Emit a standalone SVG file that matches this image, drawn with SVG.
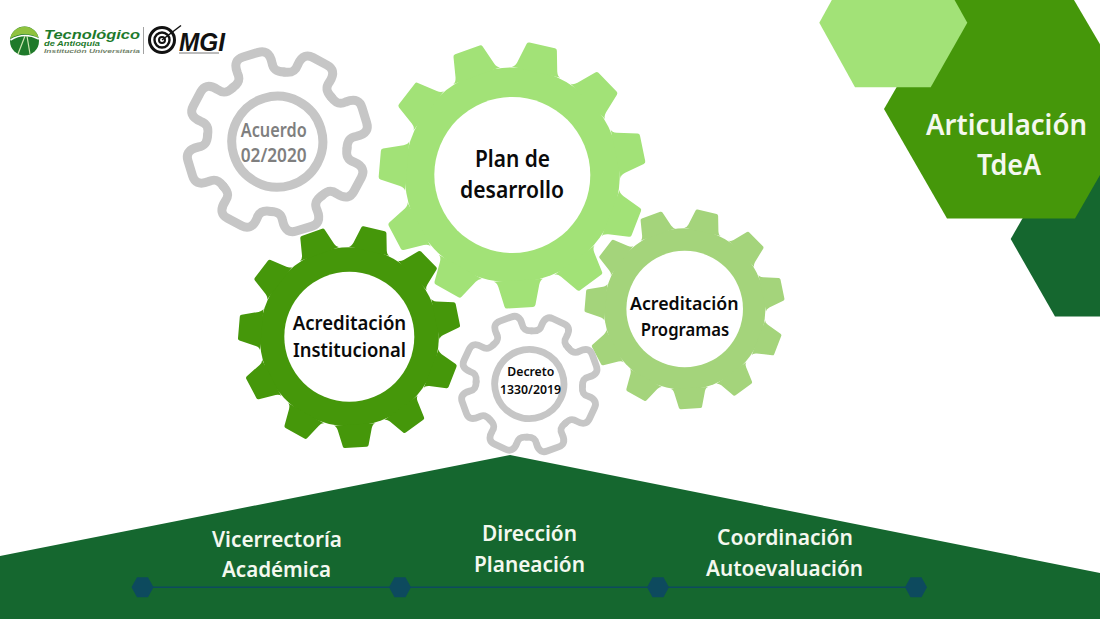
<svg xmlns="http://www.w3.org/2000/svg" width="1100" height="619" viewBox="0 0 1100 619">
<style>
text{font-family:"Noto Sans","Open Sans","Liberation Sans",sans-serif;font-weight:600}
.k{fill:#0a0a0a}
.w{fill:#f4f8ef}
.hole{fill:#fff}
.ol{fill:none;stroke:#c6c6c6;stroke-linecap:round;stroke-linejoin:round}
.dot{fill:#0d4a5e}
.logo{font-family:"Liberation Sans",sans-serif;font-weight:700;font-style:italic}
</style>
<defs>
<g id="gear11" stroke-linejoin="round">
<circle r="107.500"/>
<path id="t" d="M-25-105.500Q-22-106-20.500-111L-15.500-131Q-15-133-13-133L13-133Q15-133 15.500-131L20.500-111Q22-106 25-105.500Z"/>
<use href="#t" transform="rotate(32.727)"/><use href="#t" transform="rotate(65.455)"/><use href="#t" transform="rotate(98.182)"/><use href="#t" transform="rotate(130.909)"/><use href="#t" transform="rotate(163.636)"/><use href="#t" transform="rotate(196.364)"/><use href="#t" transform="rotate(229.091)"/><use href="#t" transform="rotate(261.818)"/><use href="#t" transform="rotate(294.545)"/><use href="#t" transform="rotate(327.273)"/>
</g>
<g id="gear8">
<path id="p" d="M-26.800-64.700C-20-67-17-70-18-77C-19-88-14-91-8-91L8-91C14-91 19-88 18-77C17-70 20-67 26.800-64.700"/>
<use href="#p" transform="rotate(45)"/><use href="#p" transform="rotate(90)"/><use href="#p" transform="rotate(135)"/><use href="#p" transform="rotate(180)"/><use href="#p" transform="rotate(225)"/><use href="#p" transform="rotate(270)"/><use href="#p" transform="rotate(315)"/>
<circle r="45.500"/>
</g>
<polygon id="dothex" points="-11,0 -5.500,-10 5.500,-10 11,0 5.500,10 -5.500,10"/>
</defs>
<rect width="1100" height="619" fill="#fff"/>

<g id="hexagons">
<polygon points="1010.700,239 1055,316.500 1100,316.500 1100,160 1056,160" fill="#15672f"/>
<polygon points="884,109 947,0 1074,0 1138,109 1075,218.500 947,218.500" fill="#45970a"/>
<polygon points="819.300,22.700 855,87.300 930.700,87.300 967.300,22.700 931,-42 855,-42" fill="#a2e277"/>
</g>
<g id="title">
<text class="w" x="926" y="135" font-size="29" textLength="161" lengthAdjust="spacingAndGlyphs">Articulación</text>
<text class="w" x="977" y="175" font-size="29" textLength="64" lengthAdjust="spacingAndGlyphs">TdeA</text>
</g>

<g id="base"><polygon points="0,556 510,455 1100,573 1100,619 0,619" fill="#15672f"/></g>

<g id="gear-acuerdo">
<use href="#gear8" class="ol" stroke-width="9" transform="translate(277.300 141.700) rotate(-17)"/>
<text x="240.700" y="136.700" font-size="19" fill="#7f7f7f" textLength="66" lengthAdjust="spacingAndGlyphs">Acuerdo</text>
<text x="240.700" y="161.700" font-size="19" fill="#7f7f7f" textLength="66" lengthAdjust="spacingAndGlyphs">02/2020</text>
</g>
<g id="gear-plan">
<use href="#gear11" fill="#a2e277" transform="translate(512.300 175) rotate(13)"/>
<circle class="hole" cx="512.300" cy="175" r="78"/>
<text class="k" x="475" y="167" font-size="23" textLength="75" lengthAdjust="spacingAndGlyphs">Plan de</text>
<text class="k" x="460" y="197.500" font-size="23" textLength="104" lengthAdjust="spacingAndGlyphs">desarrollo</text>
</g>
<g id="gear-institucional">
<use href="#gear11" fill="#45970a" transform="translate(349.300 336.700) rotate(13) scale(.833)"/>
<circle class="hole" cx="349.300" cy="336.700" r="65"/>
<text class="k" x="292.700" y="330" font-size="20" textLength="113.500" lengthAdjust="spacingAndGlyphs">Acreditación</text>
<text class="k" x="293" y="357.300" font-size="20" textLength="113" lengthAdjust="spacingAndGlyphs">Institucional</text>
</g>
<g id="gear-programas">
<use href="#gear11" fill="#a4d47b" transform="translate(684.700 309) rotate(13) scale(.75)"/>
<circle class="hole" cx="684.700" cy="309" r="58.300"/>
<text class="k" x="630" y="310" font-size="18" textLength="108.500" lengthAdjust="spacingAndGlyphs">Acreditación</text>
<text class="k" x="640.700" y="336" font-size="18" textLength="88.500" lengthAdjust="spacingAndGlyphs">Programas</text>
</g>
<g id="gear-decreto">
<use href="#gear8" class="ol" stroke-width="9" transform="translate(529.300 384) rotate(-20) scale(.76)"/>
<text class="k" x="507.300" y="375.700" font-size="13" textLength="47" lengthAdjust="spacingAndGlyphs">Decreto</text>
<text class="k" x="500" y="394" font-size="13" textLength="61" lengthAdjust="spacingAndGlyphs">1330/2019</text>
</g>

<g id="connectors"><line x1="143" y1="587.300" x2="916" y2="587.300" stroke="#0d4a5e" stroke-width="1.500"/></g>
<g id="dots" class="dot">
<use href="#dothex" x="142.500" y="587.300"/><use href="#dothex" x="400" y="587.300"/><use href="#dothex" x="658" y="587.300"/><use href="#dothex" x="916" y="587.300"/>
</g>
<g id="labels">
<text class="w" x="212" y="547" font-size="21" textLength="130" lengthAdjust="spacingAndGlyphs">Vicerrectoría</text>
<text class="w" x="222" y="577" font-size="21" textLength="109" lengthAdjust="spacingAndGlyphs">Académica</text>
<text class="w" x="482" y="541" font-size="21" textLength="95" lengthAdjust="spacingAndGlyphs">Dirección</text>
<text class="w" x="474" y="572" font-size="21" textLength="111" lengthAdjust="spacingAndGlyphs">Planeación</text>
<text class="w" x="717" y="545" font-size="21" textLength="136" lengthAdjust="spacingAndGlyphs">Coordinación</text>
<text class="w" x="706" y="576" font-size="21" textLength="157" lengthAdjust="spacingAndGlyphs">Autoevaluación</text>
</g>

<g id="logo">
<circle cx="24.500" cy="41" r="14.500" fill="#1f7a2a"/>
<path d="M10.200 38.500A14.500 14.500 0 0 1 38.500 37.500Q24 30 10.200 38.500Z" fill="#8fc23f"/>
<path d="M10.500 40Q24 31.500 38.800 39" fill="none" stroke="#fff" stroke-width="1.500"/>
<path d="M18 54L25 36M30 54L27 36" fill="none" stroke="#cfe6b0" stroke-width="1.200"/>
<text class="logo" x="44" y="38.500" font-size="13" fill="#1d7a2c" textLength="96" lengthAdjust="spacingAndGlyphs">Tecnológico</text>
<text class="logo" x="44" y="45.500" font-size="7" fill="#1d7a2c" textLength="56" lengthAdjust="spacingAndGlyphs">de Antioquia</text>
<text class="logo" x="44" y="53" font-size="6" fill="#6f7f68" textLength="96" lengthAdjust="spacingAndGlyphs">Institución Universitaria</text>
<line x1="143.500" y1="27" x2="143.500" y2="54" stroke="#8a8a8a" stroke-width=".8"/>
<g fill="none" stroke="#111"><circle cx="162" cy="40" r="12.500" stroke-width="3"/><circle cx="162" cy="40" r="7.500" stroke-width="2.400"/><circle cx="162" cy="40" r="3" stroke-width="2"/><path d="M162 40L181 25.500" stroke-width="1.500"/></g>
<text class="logo" x="179" y="50.500" font-size="25" fill="#111" textLength="46" lengthAdjust="spacingAndGlyphs">MGI</text>
<line x1="179" y1="53" x2="219" y2="53" stroke="#555" stroke-width=".8"/>
</g>
</svg>
